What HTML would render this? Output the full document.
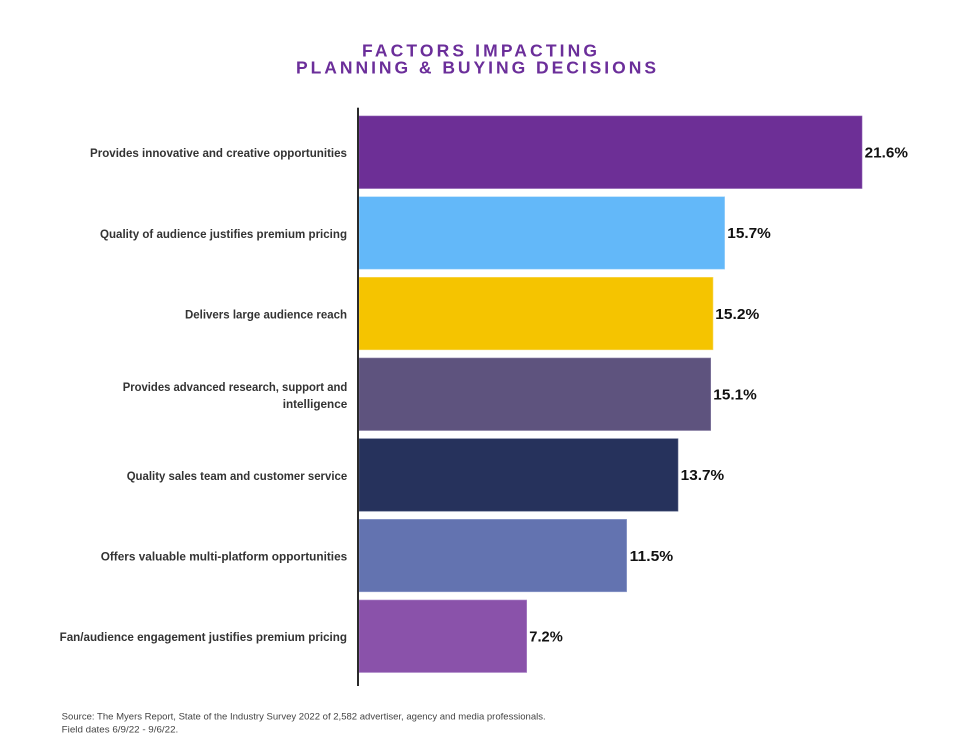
<!DOCTYPE html>
<html>
<head>
<meta charset="utf-8">
<style>
  html, body { margin:0; padding:0; background:#ffffff; }
  svg { display:block; }
  .lbl { font-family:"Liberation Sans", sans-serif; font-weight:bold; font-size:12px; fill:#333333; }
  .val { font-family:"Liberation Sans", sans-serif; font-weight:bold; font-size:15px; fill:#111111; }
  .ttl { font-family:"Liberation Sans", sans-serif; font-weight:bold; font-size:17.5px; fill:#6B2E9A; }
  .src { font-family:"Liberation Sans", sans-serif; font-size:9.5px; fill:#444444; }
</style>
</head>
<body>
<svg width="960" height="747" viewBox="0 0 960 747" xmlns="http://www.w3.org/2000/svg">
  <rect x="0" y="0" width="960" height="747" fill="#ffffff"/>

  <!-- Title -->
  <text class="ttl" x="362" y="56.7" textLength="235" lengthAdjust="spacing">FACTORS IMPACTING</text>
  <text class="ttl" x="296" y="73.3" textLength="360" lengthAdjust="spacing">PLANNING &amp; BUYING DECISIONS</text>

  <!-- Bars -->
  <rect x="359" y="116" width="503" height="72.5" fill="#6D2F96" stroke="#8a5cb0" stroke-width="0.6"/>
  <rect x="359" y="196.7" width="365.7" height="72.5" fill="#63B8F9" stroke="#a8d7fb" stroke-width="0.6"/>
  <rect x="359" y="277.3" width="354" height="72.5" fill="#F5C400" stroke="#f8da66" stroke-width="0.6"/>
  <rect x="359" y="358" width="351.7" height="72.5" fill="#5E537E" stroke="#8a80a6" stroke-width="0.6"/>
  <rect x="359" y="438.7" width="319" height="72.5" fill="#26325C" stroke="#5a6488" stroke-width="0.6"/>
  <rect x="359" y="519.3" width="267.7" height="72.5" fill="#6373B0" stroke="#9aa6d2" stroke-width="0.6"/>
  <rect x="359" y="600" width="167.7" height="72.5" fill="#8A52AA" stroke="#b08ccc" stroke-width="0.6"/>

  <!-- Axis -->
  <rect x="357" y="107.7" width="2" height="578.3" fill="#2a2a2a"/>

  <!-- Category labels -->
  <text class="lbl" x="90" y="157" textLength="257" lengthAdjust="spacingAndGlyphs">Provides innovative and creative opportunities</text>
  <text class="lbl" x="100" y="238" textLength="247" lengthAdjust="spacingAndGlyphs">Quality of audience justifies premium pricing</text>
  <text class="lbl" x="185" y="318.5" textLength="162" lengthAdjust="spacingAndGlyphs">Delivers large audience reach</text>
  <text class="lbl" x="122.7" y="391" textLength="224.6" lengthAdjust="spacingAndGlyphs">Provides advanced research, support and</text>
  <text class="lbl" x="282.7" y="408" textLength="64.6" lengthAdjust="spacingAndGlyphs">intelligence</text>
  <text class="lbl" x="126.7" y="480" textLength="220.5" lengthAdjust="spacingAndGlyphs">Quality sales team and customer service</text>
  <text class="lbl" x="100.7" y="560.5" textLength="246.5" lengthAdjust="spacingAndGlyphs">Offers valuable multi-platform opportunities</text>
  <text class="lbl" x="59.6" y="641" textLength="287.4" lengthAdjust="spacingAndGlyphs">Fan/audience engagement justifies premium pricing</text>

  <!-- Value labels -->
  <text class="val" x="864.7" y="157.5" textLength="43.3" lengthAdjust="spacingAndGlyphs">21.6%</text>
  <text class="val" x="727.3" y="238.2" textLength="43.5" lengthAdjust="spacingAndGlyphs">15.7%</text>
  <text class="val" x="715.3" y="318.8" textLength="44" lengthAdjust="spacingAndGlyphs">15.2%</text>
  <text class="val" x="713.3" y="399.5" textLength="43.5" lengthAdjust="spacingAndGlyphs">15.1%</text>
  <text class="val" x="680.7" y="480.2" textLength="43.5" lengthAdjust="spacingAndGlyphs">13.7%</text>
  <text class="val" x="629.7" y="560.8" textLength="43.5" lengthAdjust="spacingAndGlyphs">11.5%</text>
  <text class="val" x="529.3" y="641.5" textLength="33.5" lengthAdjust="spacingAndGlyphs">7.2%</text>

  <!-- Source -->
  <text class="src" x="61.7" y="719.3" textLength="484" lengthAdjust="spacingAndGlyphs">Source: The Myers Report, State of the Industry Survey 2022 of 2,582 advertiser, agency and media professionals.</text>
  <text class="src" x="61.7" y="732.3" textLength="116.6" lengthAdjust="spacingAndGlyphs">Field dates 6/9/22 - 9/6/22.</text>
</svg>
</body>
</html>
